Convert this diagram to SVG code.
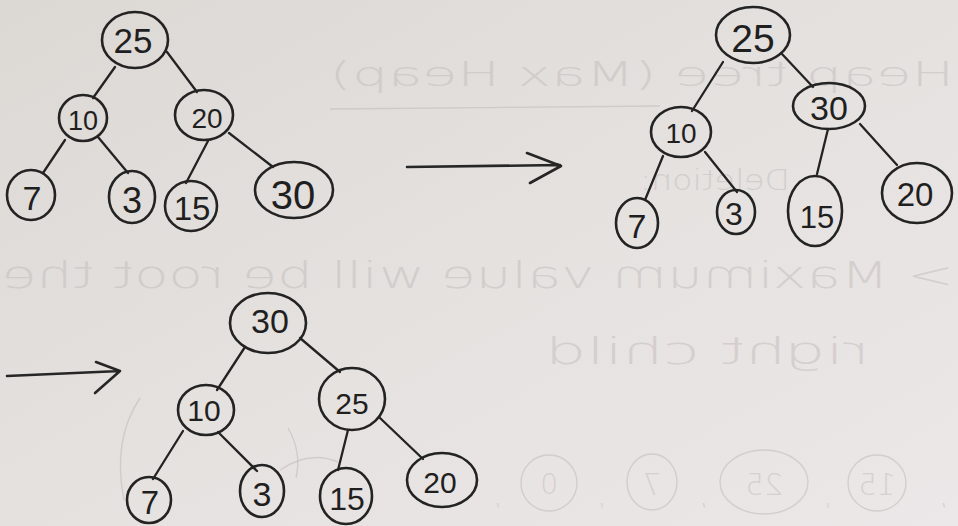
<svg xmlns="http://www.w3.org/2000/svg" width="958" height="526" viewBox="0 0 958 526">
  <defs>
    <linearGradient id="paper" x1="0" y1="0" x2="1" y2="1">
      <stop offset="0" stop-color="#dcd8d4"/>
      <stop offset="0.55" stop-color="#e6e2e0"/>
      <stop offset="1" stop-color="#ece7e8"/>
    </linearGradient>
    <style>
      .node { fill: none; stroke: #232323; stroke-width: 2.6; }
      .edge { fill: none; stroke: #232323; stroke-width: 2.3; stroke-linecap: round; }
      .arrow { fill: none; stroke: #262626; stroke-width: 2.6; stroke-linecap: round; stroke-linejoin: round; }
      .num { font-family: "Liberation Sans", "DejaVu Sans", sans-serif; fill: #1f1f1f; text-anchor: middle; }
      .ghost { font-family: "DejaVu Sans", "Liberation Sans", sans-serif; font-weight: 200; fill: #c2bbbb; opacity: 0.5; }
      .ghost-line { fill: none; stroke: #bdb6b6; stroke-width: 1.4; opacity: 0.5; }
    </style>
  </defs>

  <!-- paper -->
  <rect x="0" y="0" width="958" height="526" fill="url(#paper)"/>

  <!-- faint writing showing through from the reverse side (mirrored sheet) -->
  <g id="reverse-side" transform="translate(958,0) scale(-1,1)">
    <text class="ghost" x="4" y="86" font-size="34" textLength="624" lengthAdjust="spacingAndGlyphs">Heap tree (Max Heap)</text>
    <line class="ghost-line" x1="298" y1="106" x2="628" y2="109"/>
    <text class="ghost" x="168" y="190" font-size="28" textLength="150" lengthAdjust="spacingAndGlyphs">Deletion:</text>
    <text class="ghost" x="4" y="288" font-size="38" textLength="952" lengthAdjust="spacingAndGlyphs">&gt; Maximum value will be root the</text>
    <text class="ghost" x="88" y="364" font-size="38" textLength="325" lengthAdjust="spacingAndGlyphs">right child</text>
    <ellipse class="ghost-line" cx="409" cy="483" rx="28" ry="28"/>
    <ellipse class="ghost-line" cx="306" cy="482" rx="25" ry="28"/>
    <ellipse class="ghost-line" cx="194" cy="482" rx="44" ry="32"/>
    <ellipse class="ghost-line" cx="81" cy="483" rx="29" ry="28"/>
    <text class="ghost" x="409" y="494" font-size="28" text-anchor="middle">0</text>
    <text class="ghost" x="306" y="495" font-size="30" text-anchor="middle">7</text>
    <text class="ghost" x="194" y="495" font-size="30" text-anchor="middle">25</text>
    <text class="ghost" x="81" y="495" font-size="30" text-anchor="middle">15</text>
    <text class="ghost" x="456" y="505" font-size="28">,</text>
    <text class="ghost" x="352" y="505" font-size="28">,</text>
    <text class="ghost" x="250" y="505" font-size="28">,</text>
    <text class="ghost" x="126" y="505" font-size="28">,</text>
    <text class="ghost" x="10" y="505" font-size="28">,</text>
    <path class="ghost-line" d="M818,398 Q846,440 834,500"/>
    <path class="ghost-line" d="M670,428 Q656,452 662,478"/>
    <path class="ghost-line" d="M678,470 Q648,450 620,462"/>
  </g>

  <!-- connectors -->
  <g id="connectors">
    <!-- first tree -->
    <path class="edge" d="M115,67 L93,98"/>
    <path class="edge" d="M167,52 L197,92"/>
    <path class="edge" d="M65,140 L43,173"/>
    <path class="edge" d="M98,137 L128,173"/>
    <path class="edge" d="M208,141 L186,183"/>
    <path class="edge" d="M229,133 L273,167"/>
    <!-- second tree -->
    <path class="edge" d="M723,62 L692,111"/>
    <path class="edge" d="M782,54 L813,87"/>
    <path class="edge" d="M663,156 L645,200"/>
    <path class="edge" d="M705,152 L737,192"/>
    <path class="edge" d="M828,129 L817,174"/>
    <path class="edge" d="M860,124 L897,165"/>
    <!-- third tree -->
    <path class="edge" d="M245,347 L217,390"/>
    <path class="edge" d="M300,338 L340,372"/>
    <path class="edge" d="M183,431 L153,479"/>
    <path class="edge" d="M218,432 L257,471"/>
    <path class="edge" d="M348,430 L338,470"/>
    <path class="edge" d="M380,418 L423,459"/>
    <!-- step arrows -->
    <path class="arrow" d="M407,167 L560,165 M527,153 L561,166 L530,183"/>
    <path class="arrow" d="M7,376 L120,371 M96,362 L120,371 L95,393"/>
  </g>

  <!-- first tree -->
  <g id="t1-25"><ellipse class="node" cx="135" cy="40" rx="33" ry="28"/><text class="num" x="133" y="53" font-size="35">25</text></g>
  <g id="t1-10"><ellipse class="node" cx="83" cy="118" rx="24" ry="23"/><text class="num" x="83" y="130" font-size="27">10</text></g>
  <g id="t1-20"><ellipse class="node" cx="204" cy="115" rx="29" ry="25"/><text class="num" x="207" y="128" font-size="28">20</text></g>
  <g id="t1-7"><ellipse class="node" cx="31" cy="195" rx="24" ry="25"/><text class="num" x="32" y="210" font-size="34">7</text></g>
  <g id="t1-3"><ellipse class="node" cx="132" cy="197" rx="23" ry="26"/><text class="num" x="132" y="213" font-size="36">3</text></g>
  <g id="t1-15"><ellipse class="node" cx="191" cy="206" rx="26" ry="25"/><text class="num" x="192" y="220" font-size="33">15</text></g>
  <g id="t1-30"><ellipse class="node" cx="294" cy="190" rx="39" ry="28"/><text class="num" x="293" y="209" font-size="40">30</text></g>

  <!-- second tree -->
  <g id="t2-25"><ellipse class="node" cx="753" cy="35" rx="37" ry="28"/><text class="num" x="753" y="52" font-size="39">25</text></g>
  <g id="t2-10"><ellipse class="node" cx="681" cy="132" rx="30" ry="25"/><text class="num" x="681" y="143" font-size="28">10</text></g>
  <g id="t2-30"><ellipse class="node" cx="829" cy="106" rx="36" ry="23"/><text class="num" x="829" y="120" font-size="34">30</text></g>
  <g id="t2-7"><ellipse class="node" cx="637" cy="223" rx="21" ry="25"/><text class="num" x="637" y="238" font-size="34">7</text></g>
  <g id="t2-3"><ellipse class="node" cx="736" cy="212" rx="19" ry="22"/><text class="num" x="734" y="225" font-size="32">3</text></g>
  <g id="t2-15"><ellipse class="node" cx="815" cy="211" rx="27" ry="35"/><text class="num" x="817" y="228" font-size="31">15</text></g>
  <g id="t2-20"><ellipse class="node" cx="917" cy="193" rx="35" ry="30"/><text class="num" x="915" y="206" font-size="33">20</text></g>

  <!-- third tree -->
  <g id="t3-30"><ellipse class="node" cx="268" cy="323" rx="38" ry="30"/><text class="num" x="270" y="333" font-size="34">30</text></g>
  <g id="t3-10"><ellipse class="node" cx="206" cy="410" rx="28" ry="25"/><text class="num" x="204" y="421" font-size="30">10</text></g>
  <g id="t3-25"><ellipse class="node" cx="352" cy="399" rx="33" ry="31"/><text class="num" x="352" y="414" font-size="30">25</text></g>
  <g id="t3-7"><ellipse class="node" cx="149" cy="500" rx="22" ry="23"/><text class="num" x="150" y="514" font-size="33">7</text></g>
  <g id="t3-3"><ellipse class="node" cx="262" cy="491" rx="22" ry="26"/><text class="num" x="262" y="506" font-size="34">3</text></g>
  <g id="t3-15"><ellipse class="node" cx="346" cy="496" rx="26" ry="28"/><text class="num" x="347" y="510" font-size="32">15</text></g>
  <g id="t3-20"><ellipse class="node" cx="442" cy="480" rx="35" ry="27"/><text class="num" x="440" y="493" font-size="30">20</text></g>
</svg>
